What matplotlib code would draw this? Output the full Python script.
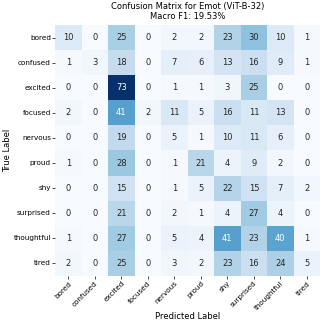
import matplotlib
matplotlib.use('Agg')
import matplotlib.pyplot as plt
import seaborn as sns
import numpy as np

labels = ["bored", "confused", "excited", "focused", "nervous",
          "proud", "shy", "surprised", "thoughtful", "tired"]

cm = np.array([
    [10, 0, 25, 0, 2, 2, 23, 30, 10, 1],
    [1, 3, 18, 0, 7, 6, 13, 16, 9, 1],
    [0, 0, 73, 0, 1, 1, 3, 25, 0, 0],
    [2, 0, 41, 2, 11, 5, 16, 11, 13, 0],
    [0, 0, 19, 0, 5, 1, 10, 11, 6, 0],
    [1, 0, 28, 0, 1, 21, 4, 9, 2, 0],
    [0, 0, 15, 0, 1, 5, 22, 15, 7, 2],
    [0, 0, 21, 0, 2, 1, 4, 27, 4, 0],
    [1, 0, 27, 0, 5, 4, 41, 23, 40, 1],
    [2, 0, 25, 0, 3, 2, 23, 16, 24, 5],
])
macro_f1 = 19.53

fig = plt.figure(figsize=(3.24, 3.24), dpi=100)
ax = fig.add_axes([0.17, 0.148, 0.818, 0.775])
sns.heatmap(cm, annot=True, fmt='d', cmap='Blues', cbar=False,
            xticklabels=labels, yticklabels=labels, ax=ax,
            annot_kws={'size': 6})
ax.tick_params(labelsize=5.2, length=2, width=0.5, pad=1)
plt.setp(ax.get_xticklabels(), rotation=45, ha='right', rotation_mode='anchor')
plt.setp(ax.get_yticklabels(), rotation=0)
ax.set_xlabel("Predicted Label", fontsize=6, labelpad=1)
ax.set_ylabel("True Label", fontsize=6, labelpad=1)
ax.set_title("Confusion Matrix for Emot (ViT-B-32)\nMacro F1: {:.2f}%".format(macro_f1),
             fontsize=6, pad=4)
fig.savefig("out.png", dpi=100)
